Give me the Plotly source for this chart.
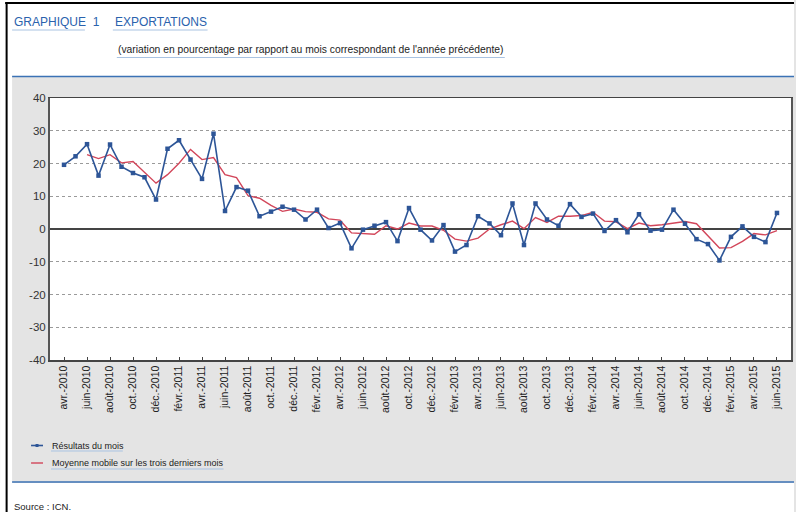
import plotly.graph_objects as go

month_names = ["avr.", "mai", "juin", "juil.", "août", "sept.", "oct.", "nov.", "déc.", "janv.", "févr.", "mars"]
start_year = 2010
n_months = 63

resultats = [19.6, 22.2, 25.9, 16.3, 25.8, 19.0, 17.1, 15.8, 9.0, 24.5,
             27.1, 21.2, 15.3, 29.1, 5.5, 12.8, 11.7, 3.9, 5.3, 6.8,
             5.9, 2.9, 5.9, 0.3, 1.8, -5.9, -0.2, 1.0, 2.1, -3.7,
             6.4, -0.2, -3.5, 1.2, -6.9, -4.9, 3.9, 1.7, -1.9, 7.8,
             -4.9, 7.8, 2.9, 1.0, 7.6, 3.7, 4.7, -0.6, 2.7, -1.0,
             4.5, -0.5, -0.2, 5.9, 1.6, -3.1, -4.6, -9.6, -2.4, 0.8,
             -2.4, -4.0, 4.9]

moyenne = [None, None, 22.7, 21.5, 22.7, 20.2, 20.6, 17.4, 14.0, 16.6,
           20.1, 24.3, 21.2, 21.8, 16.6, 15.7, 10.2, 9.4, 7.2, 5.4,
           6.1, 5.3, 5.1, 3.1, 2.7, -1.2, -1.4, -1.6, 1.0, 0.0,
           1.8, 0.9, 0.9, -0.4, -3.1, -3.7, -2.8, 0.0, 1.3, 2.4,
           0.1, 3.5, 2.0, 3.9, 3.9, 4.1, 5.1, 2.4, 2.2, 0.1,
           1.8, 1.0, 1.3, 1.8, 2.3, 1.6, -2.0, -5.8, -5.7, -3.8,
           -1.4, -1.8, -0.5]

y_tickvals = [40, 30, 20, 10, 0, -10, -20, -30, -40]
y_ticktext = ["40", "30", "20", "10", "0", "-10", "-20", "-30", "-40"]

# month labels
labels = []
for i in range(n_months):
    y = start_year + (3 + i) // 12
    labels.append(f"{month_names[i % 12]}-{y}")
x_idx = list(range(n_months))
tick_idx = x_idx[::2]
tick_txt = labels[::2]

W, H = 796, 512
L, R, T, B = 50, 793, 98, 360


def px(xp):
    return (xp - L) / (R - L)


def py(yp):
    return (B - yp) / (B - T)


BLUE = "#2d5597"
RED = "#d2465a"
TITLE_BLUE = "#2a62ad"
GRAY_BG = "#e4e4e4"

fig = go.Figure()
fig.add_trace(go.Scatter(x=x_idx, y=moyenne, mode="lines",
                         line=dict(color=RED, width=1.4), name="Moyenne mobile sur les trois derniers mois"))
fig.add_trace(go.Scatter(x=x_idx, y=resultats, mode="lines+markers",
                         line=dict(color=BLUE, width=1.6),
                         marker=dict(symbol="square", size=4.5, color=BLUE),
                         name="Résultats du mois"))

shapes = []
# white regions outside grey panel
shapes.append(dict(type="rect", xref="paper", yref="paper", x0=px(0), x1=px(W), y0=py(0), y1=py(76),
                   fillcolor="white", line=dict(width=0), layer="above"))
shapes.append(dict(type="rect", xref="paper", yref="paper", x0=px(0), x1=px(W), y0=py(483), y1=py(H),
                   fillcolor="white", line=dict(width=0), layer="above"))
shapes.append(dict(type="rect", xref="paper", yref="paper", x0=px(0), x1=px(12), y0=py(0), y1=py(H),
                   fillcolor="white", line=dict(width=0), layer="above"))
# blue separator lines
shapes.append(dict(type="line", xref="paper", yref="paper", x0=px(12), x1=px(W), y0=py(76.5), y1=py(76.5),
                   line=dict(color="#3b72b5", width=1.5)))
shapes.append(dict(type="line", xref="paper", yref="paper", x0=px(12), x1=px(W), y0=py(482), y1=py(482),
                   line=dict(color="#3b72b5", width=1.5)))
# black frame
shapes.append(dict(type="line", xref="paper", yref="paper", x0=px(5), x1=px(W), y0=py(3), y1=py(3),
                   line=dict(color="black", width=2)))
shapes.append(dict(type="line", xref="paper", yref="paper", x0=px(6.5), x1=px(6.5), y0=py(3), y1=py(H),
                   line=dict(color="black", width=2)))
# underlines (light blue)
UL = "#a9c3e2"
for x0, x1, yy in [(12, 85, 30), (113, 208, 30), (117, 506, 57.5), (51, 123, 451), (51, 224, 469)]:
    shapes.append(dict(type="line", xref="paper", yref="paper", x0=px(x0), x1=px(x1), y0=py(yy), y1=py(yy),
                       line=dict(color=UL, width=1)))
# legend symbols
shapes.append(dict(type="line", xref="paper", yref="paper", x0=px(31), x1=px(43), y0=py(445.5), y1=py(445.5),
                   line=dict(color=BLUE, width=1.6)))
shapes.append(dict(type="rect", xref="paper", yref="paper", x0=px(35.5), x1=px(38.5), y0=py(444), y1=py(447),
                   fillcolor=BLUE, line=dict(width=0)))
shapes.append(dict(type="line", xref="paper", yref="paper", x0=px(31), x1=px(43), y0=py(463), y1=py(463),
                   line=dict(color=RED, width=1.4)))

font_main = "Liberation Sans, Arial, sans-serif"
annotations = [
    dict(text="GRAPHIQUE  1", x=px(12), y=py(22), font=dict(size=12, color=TITLE_BLUE)),
    dict(text="EXPORTATIONS", x=px(113), y=py(22), font=dict(size=12, color=TITLE_BLUE)),
    dict(text="(variation en pourcentage par rapport au mois correspondant de l'année précédente)",
         x=px(116), y=py(50), font=dict(size=10.3, color="#222")),
    dict(text="Résultats du mois", x=px(50), y=py(445.5), font=dict(size=9, color="#222")),
    dict(text="Moyenne mobile sur les trois derniers mois", x=px(50), y=py(463), font=dict(size=9, color="#222")),
    dict(text="Source : ICN.", x=px(12), y=py(506), font=dict(size=9.5, color="#222")),
]
for a in annotations:
    a.update(xref="paper", yref="paper", xanchor="left", yanchor="middle", showarrow=False)

fig.update_layout(
    width=W, height=H,
    margin=dict(l=L, r=W - R, t=T, b=H - B, pad=0),
    paper_bgcolor=GRAY_BG, plot_bgcolor="white",
    showlegend=False,
    font=dict(family=font_main, color="#222"),
    shapes=shapes, annotations=annotations,
)
fig.update_xaxes(range=[-1.22, 63.22], tickvals=tick_idx, ticktext=tick_txt, tickangle=-90,
                 ticks="inside", ticklen=3, tickcolor="#444", tickwidth=1,
                 showgrid=False, zeroline=False,
                 showline=True, linecolor="#444", linewidth=1.5, mirror=True,
                 tickfont=dict(size=10.5, color="#222"))
fig.update_yaxes(range=[-40, 40], tickvals=y_tickvals, ticktext=y_ticktext,
                 showgrid=True, gridcolor="#9a9a9a", griddash="dot", gridwidth=1,
                 zeroline=True, zerolinecolor="#444", zerolinewidth=1.8,
                 showline=True, linecolor="#555", linewidth=2, mirror=True,
                 ticks="", tickfont=dict(size=11.5, color="#333"))

fig.write_html("out.html", config={"displayModeBar": False, "staticPlot": True},
               post_script="document.body.style.margin='0';document.body.style.padding='0';document.body.style.overflow='hidden';")
